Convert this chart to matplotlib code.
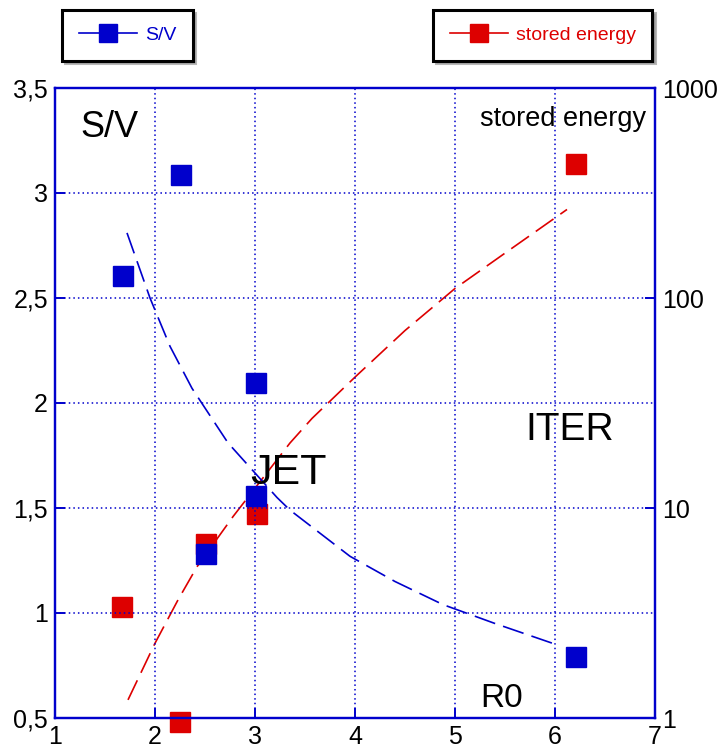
import matplotlib.pyplot as plt
from matplotlib.ticker import FixedLocator, FuncFormatter

plt.rcParams['font.family'] = ['Liberation Sans', 'DejaVu Sans']

BLUE = '#0000cc'
RED = '#dd0000'

# measured machines: major radius R0 [m] vs surface/volume ratio
sv_r0 = [1.68, 2.265, 2.51, 3.015, 3.015, 6.215]
sv_val = [2.605, 3.088, 1.281, 2.095, 1.557, 0.79]

# stored energy [MJ], right-hand log axis
we_r0 = [1.675, 2.25, 2.51, 3.025, 6.215]
we_val = [3.36, 0.96, 6.74, 9.36, 435.0]

# scaling curves
sv_fit_r0 = [1.72, 1.95, 2.15, 2.37, 2.73, 3.22, 3.35, 3.95, 4.40, 4.88, 5.40, 5.98]
sv_fit_val = [2.81, 2.50, 2.27, 2.07, 1.81, 1.55, 1.49, 1.27, 1.15, 1.04, 0.95, 0.855]
we_fit_r0 = [1.73, 2.0, 2.23, 2.42, 2.78, 3.35, 3.57, 4.0, 4.5, 5.0, 5.55, 6.12]
we_fit_val = [1.22, 2.27, 3.65, 5.25, 9.1, 20.4, 26.7, 42.0, 70.0, 111.0, 170.0, 264.0]

fig = plt.figure(figsize=(7.19, 7.52), dpi=100)
ax = fig.add_axes([55 / 719, 1 - 718 / 752, 600 / 719, 630 / 752])
ax2 = ax.twinx()

ax.set_xlim(1, 7)
ax.set_ylim(0.5, 3.5)
ax2.set_yscale('log')
ax2.set_ylim(1, 1000)

# S/V on the left axis
ax.plot(sv_fit_r0, sv_fit_val, color=BLUE, lw=1.2, dashes=(13, 5))
sv_line, = ax.plot(sv_r0, sv_val, ls='none', marker='s', ms=14, color=BLUE,
                   mec=BLUE, clip_on=False, zorder=5)

# stored energy on the right axis
ax2.plot(we_fit_r0, we_fit_val, color=RED, lw=1.2, dashes=(13, 5))
we_line, = ax2.plot(we_r0, we_val, ls='none', marker='s', ms=14, color=RED,
                    mec=RED, clip_on=False)

# keep the blue series on top
ax.set_zorder(ax2.get_zorder() + 1)
ax.patch.set_visible(False)

ax.xaxis.set_major_locator(FixedLocator(range(1, 8)))
ax.yaxis.set_major_locator(FixedLocator([0.5, 1, 1.5, 2, 2.5, 3, 3.5]))
ax.yaxis.set_major_formatter(FuncFormatter(lambda v, p: f'{v:g}'.replace('.', ',')))
ax2.yaxis.set_major_locator(FixedLocator([1, 10, 100, 1000]))
ax2.yaxis.set_major_formatter(FuncFormatter(lambda v, p: f'{v:g}'))
ax2.yaxis.set_minor_locator(FixedLocator([]))

ax.grid(True, color=BLUE, ls=(0, (1, 2)), lw=1.1)

for a in (ax, ax2):
    for s in a.spines.values():
        s.set_color(BLUE)
        s.set_linewidth(1.6)
    a.tick_params(direction='in', length=7, width=1.4, color=BLUE,
                  labelsize=18, labelcolor='black', pad=5)

# annotations
ax.text(1.25, 3.31, 'S/V', fontsize=26, va='center', ha='left')
ax.text(5.25, 3.35, 'stored energy', fontsize=19.5, va='center', ha='left')
ax.text(2.95, 1.614, 'JET', fontsize=31, va='baseline', ha='left')
ax.text(5.70, 1.824, 'ITER', fontsize=28, va='baseline', ha='left')
ax.text(5.25, 0.552, 'R0', fontsize=24, va='baseline', ha='left')

# one framed key per series above the plot
common = dict(loc='upper left', bbox_transform=fig.transFigure, borderaxespad=0,
              fancybox=False, shadow={'color': '0.45'}, framealpha=1,
              fontsize=14, handlelength=3.0, handletextpad=0.4,
              borderpad=0.85, numpoints=1, markerscale=0.9)
leg1 = ax.legend([sv_line], ['S/V'], bbox_to_anchor=(62 / 719, 1 - 10 / 752),
                 labelcolor=BLUE, **common)
leg2 = ax2.legend([we_line], ['stored energy'], bbox_to_anchor=(433 / 719, 1 - 10 / 752),
                  labelcolor=RED, **common)
for leg, c in ((leg1, BLUE), (leg2, RED)):
    leg.get_frame().set_edgecolor('black')
    leg.get_frame().set_linewidth(2.2)
    for h in leg.legend_handles:
        h.set_linestyle('-')
        h.set_linewidth(1.2)
        h.set_color(c)

fig.savefig('out.png', dpi=100)
